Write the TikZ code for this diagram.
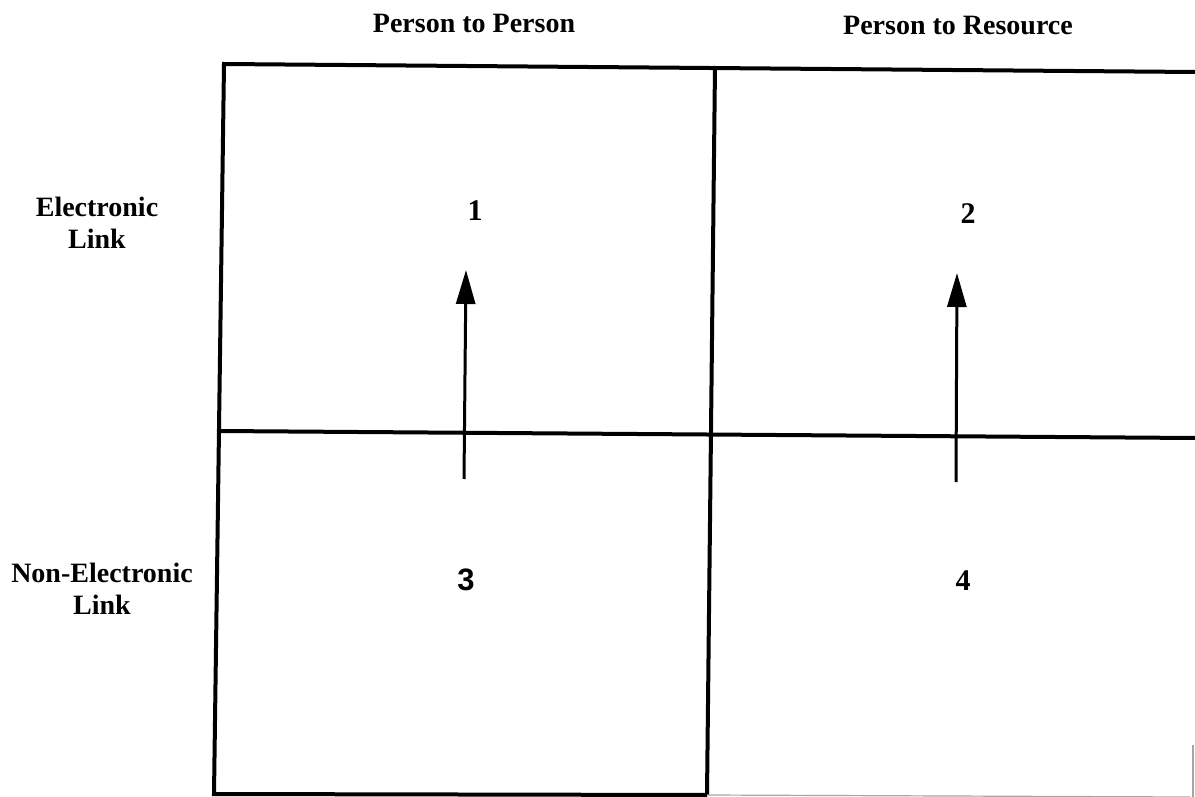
\documentclass[tikz,border=0pt]{standalone}
\usepackage{fontspec}
\setmainfont{Liberation Serif}
\setsansfont{Liberation Sans}
\usetikzlibrary{arrows.meta}
\begin{document}
\begin{tikzpicture}[x=1pt,y=-1pt,
  gridline/.style={line width=4pt},
  faint/.style={line width=1.2pt, black!35},
  arr/.style={line width=3pt,-{Triangle[length=34pt,width=19pt]}},
  lbl/.style={font=\fontsize{28}{32}\selectfont\bfseries, align=center, inner sep=0pt},
  num/.style={font=\fontsize{30}{32}\selectfont\bfseries, inner sep=0pt}]
\useasboundingbox (0,0) rectangle (1195,797);
% grid corners
\coordinate (tl) at (224,64);
\coordinate (tm) at (715,66);
\coordinate (tr) at (1195,72);
\coordinate (ml) at (219,431);
\coordinate (mr) at (1195,438);
\coordinate (bl) at (214,794);
\coordinate (bm) at (707,795);
\coordinate (br) at (1190,797);
\coordinate (rt) at (1193,745);
\coordinate (rb) at (1193,797);
% frame and dividers
\draw[gridline] (tr) -- (tl) -- (bl) -- (bm);
\draw[gridline] (tm) -- (bm);
\draw[gridline] (ml) -- (mr);
\draw[faint] (bm) -- (br);
\draw[faint] (rt) -- (rb);
% headers
\node[lbl, anchor=base] (h1) at (474,33) {Person to Person};
\node[lbl, anchor=base] (h2) at (958,35) {Person to Resource};
\node[lbl, anchor=north] (r1) at (97,197) {Electronic\\Link};
\node[lbl, anchor=north] (r2) at (102,563) {Non-Electronic\\Link};
% numbers
\node[num] (n1) at (475,211) {1};
\node[num] (n2) at (968,214) {2};
\node[num,font=\fontsize{31}{32}\selectfont\sffamily\bfseries] (n3) at (466,580) {3};
\node[num] (n4) at (963,581) {4};
% arrows
\coordinate (a1s) at (464,479);
\coordinate (a1e) at (466,270);
\coordinate (a2s) at (956,482);
\coordinate (a2e) at (957,273);
\draw[arr] (a1s) -- (a1e);
\draw[arr] (a2s) -- (a2e);
\end{tikzpicture}
\end{document}
